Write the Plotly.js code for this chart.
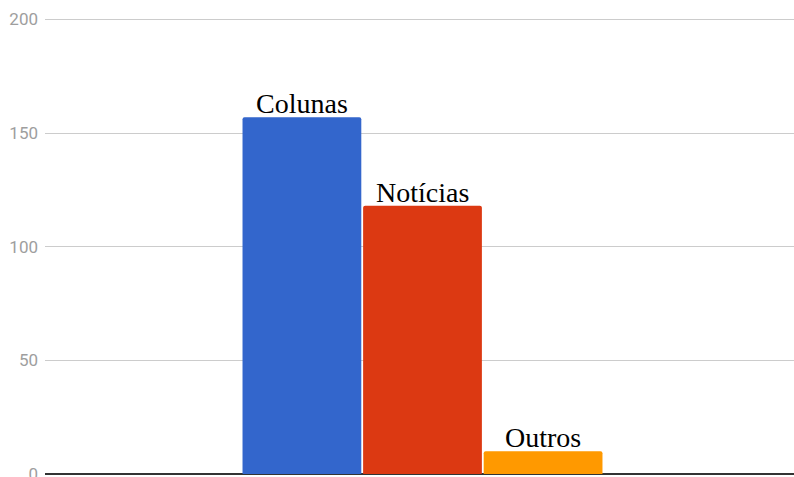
<!DOCTYPE html>
<html>
<head>
<meta charset="utf-8">
<script src="https://cdn.plot.ly/plotly-3.0.1.min.js"></script>
<style>html,body{margin:0;padding:0;background:#fff;overflow:hidden;}#chart{width:794px;height:477px;}</style>
</head>
<body>
<div id="chart"></div>
<script>
const seriesNames = ['Colunas', 'Notícias', 'Outros'];
const seriesValues = [157, 118, 10];
const seriesColors = ['#3366CC', '#DC3912', '#FF9900'];
const category = [''];
const yTicks = [0, 50, 100, 150, 200];

const bargap = 0.517;
const traces = seriesNames.map((name, i) => ({
  type: 'bar',
  name: name,
  x: category,
  y: [seriesValues[i]],
  marker: {color: seriesColors[i], cornerradius: 2},
  hoverinfo: 'none'
}));

// label positions derived from the grouped-bar layout (category at x=0)
const groupW = 1 - bargap;
const slot = groupW / seriesNames.length;
const annotations = seriesNames.map((name, i) => ({
  x: -groupW / 2 + slot * (i + 0.5),
  y: seriesValues[i],
  xref: 'x', yref: 'y',
  text: name,
  showarrow: false,
  xanchor: 'center', yanchor: 'bottom',
  yshift: -4,
  font: {family: 'Liberation Serif, Times New Roman, serif', size: 28, color: '#000'}
}));

const layout = {
  width: 794, height: 477,
  margin: {l: 45, r: 0, t: 14.5, b: 3, pad: 0, autoexpand: false},
  paper_bgcolor: '#fff', plot_bgcolor: '#fff',
  showlegend: false,
  barmode: 'group',
  bargap: bargap,
  bargroupgap: 0.015,
  annotations: annotations,
  xaxis: {type: 'category', showticklabels: false, showgrid: false, zeroline: false, showline: false, ticks: '', range: [-0.504, 0.496]},
  yaxis: {
    range: [0, 202], tickvals: yTicks, ticktext: yTicks.map(String),
    showgrid: true, gridcolor: '#cccccc', gridwidth: 1,
    zeroline: true, zerolinecolor: '#333333', zerolinewidth: 1.5,
    ticks: '', ticklabelstandoff: 6, ticklabeloverflow: 'allow',
    tickfont: {family: 'Roboto, sans-serif', size: 17, color: '#9e9e9e'}
  }
};

Plotly.newPlot('chart', traces, layout, {staticPlot: true});
</script>
</body>
</html>
